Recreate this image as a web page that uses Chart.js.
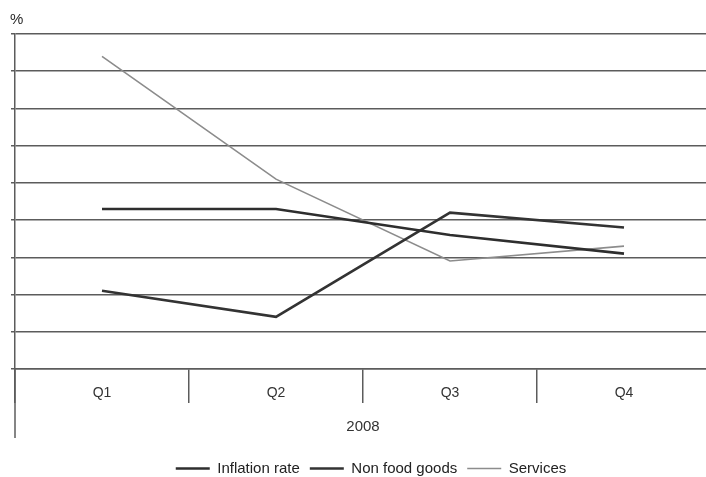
<!DOCTYPE html>
<html>
<head>
<meta charset="utf-8">
<script src="https://cdn.jsdelivr.net/npm/chart.js@4.4.0/dist/chart.umd.min.js"></script>
<style>
  html, body { margin: 0; padding: 0; background: #fff; overflow: hidden; }
  #wrap { position: relative; width: 706px; height: 477px; overflow: hidden; background: #fff; }
  #c { position: absolute; left: 0; top: 0; }
</style>
</head>
<body>
<div id="wrap"><canvas id="c" width="742" height="486" style="width:742px;height:486px"></canvas></div>
<script>
// Quarterly rates for 2008, in percent
const quarters = ['Q1', 'Q2', 'Q3', 'Q4'];
const yearLabel = '2008';
const unitLabel = '%';
const inflationRate = [4.3, 4.3, 3.6, 3.1];
const nonFoodGoods = [2.1, 1.4, 4.2, 3.8];
const services = [8.4, 5.1, 2.9, 3.3];
const seriesNames = ['Inflation rate', 'Non food goods', 'Services'];

const FONT = '"Liberation Sans", Arial, sans-serif';
const gridColor = '#5c5c5c';

Chart.defaults.font.family = FONT;
Chart.defaults.color = '#2a2a2a';

// Unit caption and the left frame line running down through the category rows
const decorations = {
  id: 'decorations',
  afterDraw(chart) {
    const { ctx, chartArea } = chart;
    const xs = chart.scales.x;
    ctx.save();
    ctx.fillStyle = '#2a2a2a';
    ctx.font = '15px ' + FONT;
    ctx.textBaseline = 'middle';
    ctx.textAlign = 'left';
    ctx.fillText(unitLabel, 10, 20);
    ctx.strokeStyle = gridColor;
    ctx.lineWidth = 1.5;
    ctx.beginPath();
    ctx.moveTo(chartArea.left, chartArea.bottom);
    ctx.lineTo(chartArea.left, xs.bottom - 13);
    ctx.stroke();
    ctx.restore();
  }
};

new Chart(document.getElementById('c'), {
  type: 'line',
  data: {
    labels: quarters,
    datasets: [
      { label: seriesNames[0], data: inflationRate, borderColor: '#2e2e2e', backgroundColor: '#2e2e2e', borderWidth: 2.6 },
      { label: seriesNames[1], data: nonFoodGoods, borderColor: '#333333', backgroundColor: '#333333', borderWidth: 2.6 },
      { label: seriesNames[2], data: services, borderColor: '#8c8c8c', backgroundColor: '#8c8c8c', borderWidth: 1.6 }
    ]
  },
  options: {
    responsive: false,
    animation: false,
    layout: { padding: { top: 34, left: 0, right: 0, bottom: 0 } },
    elements: { point: { radius: 0, hoverRadius: 0 }, line: { tension: 0 } },
    plugins: {
      tooltip: { enabled: false },
      legend: {
        position: 'bottom',
        labels: {
          usePointStyle: true,
          pointStyle: 'line',
          pointStyleWidth: 34,
          padding: 10,
          color: '#222',
          font: { size: 15 }
        }
      }
    },
    scales: {
      x: {
        offset: true,
        grid: { offset: true, drawOnChartArea: false, tickLength: 34, color: gridColor, lineWidth: 1.5 },
        border: { color: gridColor, width: 1.5 },
        ticks: { padding: -18, color: '#333', font: { size: 14 } },
        title: { display: true, text: yearLabel, color: '#333', font: { size: 15 }, padding: { top: 0, bottom: 15 } },
        afterFit(s) { s.height = 82; }
      },
      y: {
        min: 0,
        max: 9,
        ticks: { display: false, stepSize: 1 },
        grid: { color: gridColor, lineWidth: 1.5, tickLength: 4 },
        border: { color: gridColor, width: 1.5 },
        afterFit(s) { s.width = 15; }
      },
      // blank margin on the right, past the visible edge of the plot
      yRight: {
        position: 'right',
        min: 0,
        max: 9,
        ticks: { display: false },
        grid: { display: false, drawTicks: false },
        border: { display: false },
        afterFit(s) { s.width = 31; }
      }
    }
  },
  plugins: [decorations]
});
</script>
</body>
</html>
